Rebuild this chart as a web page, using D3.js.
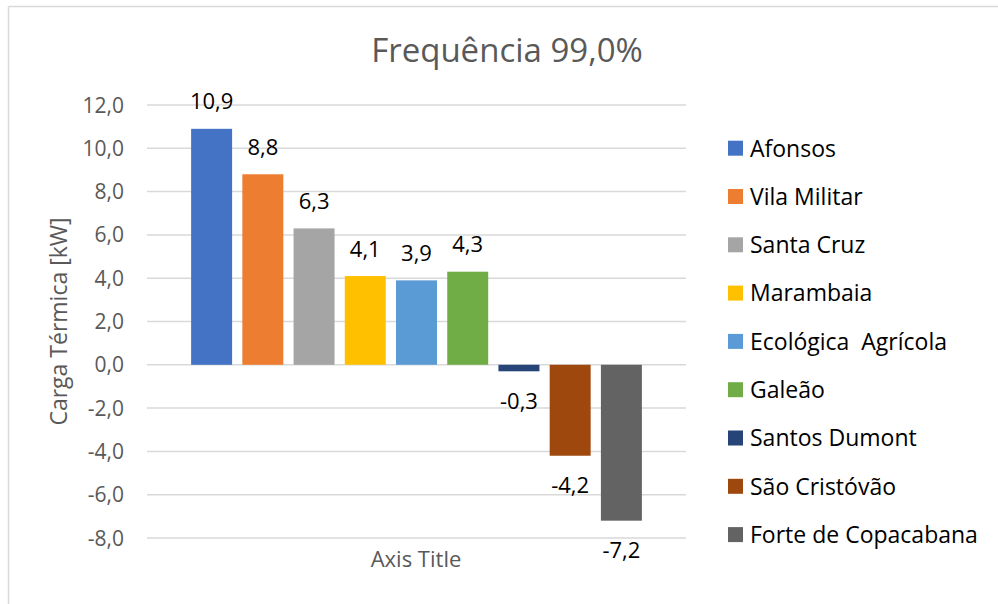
<!DOCTYPE html>
<html>
<head>
<meta charset="utf-8">
<script src="https://cdn.jsdelivr.net/npm/d3@7"></script>
<style>
  body { margin: 0; background: #fff; }
  svg text { font-family: "Open Sans", "Liberation Sans", sans-serif; }
</style>
</head>
<body>
<svg id="chart" width="998" height="604"></svg>
<script>
// data
var seriesNames = ["Afonsos", "Vila Militar", "Santa Cruz", "Marambaia", "Ecológica  Agrícola",
                   "Galeão", "Santos Dumont", "São Cristóvão", "Forte de Copacabana"];
var seriesValues = [10.9, 8.8, 6.3, 4.1, 3.9, 4.3, -0.3, -4.2, -7.2];
var seriesColors = ["#4472C4", "#ED7D31", "#A5A5A5", "#FFC000", "#5B9BD5",
                    "#70AD47", "#264478", "#9E480E", "#636363"];
var categories = ["Axis Title"];
var yTicks = [-8, -6, -4, -2, 0, 2, 4, 6, 8, 10, 12];

var svg = d3.select("#chart");
// excel style: comma decimal, plain hyphen for minus
var fmt = function (d) { return d3.format(".1f")(d).replace(".", ",").replace("\u2212", "-"); };

// chart frame (top + left only, like the source)
svg.append("line").attr("x1", 8.5).attr("x2", 998).attr("y1", 6.5).attr("y2", 6.5)
  .attr("stroke", "#d9d9d9").attr("stroke-width", 1.5);
svg.append("line").attr("x1", 8.5).attr("x2", 8.5).attr("y1", 6.5).attr("y2", 604)
  .attr("stroke", "#d9d9d9").attr("stroke-width", 1.5);

var plot = { left: 147, right: 686, top: 105, bottom: 538 };

var y = d3.scaleLinear().domain([-8, 12]).range([plot.bottom, plot.top]);
var x0 = d3.scaleBand().domain(categories).range([plot.left, plot.right])
  .paddingInner(0.078).paddingOuter(0.078);
var x1 = d3.scaleBand().domain(seriesNames).range([0, x0.bandwidth()])
  .paddingInner(0.2).paddingOuter(0.1);

// gridlines
svg.append("g").selectAll("line").data(yTicks).join("line")
  .attr("x1", plot.left).attr("x2", plot.right)
  .attr("y1", function (d) { return y(d); }).attr("y2", function (d) { return y(d); })
  .attr("stroke", "#d9d9d9").attr("stroke-width", 1.5);

// y tick labels
svg.append("g").selectAll("text").data(yTicks).join("text")
  .attr("x", 124).attr("y", function (d) { return y(d) + 7.5; })
  .attr("text-anchor", "end").attr("font-size", 21).attr("fill", "#595959")
  .text(fmt);

// bars
var group = svg.append("g").attr("transform", "translate(" + x0(categories[0]) + ",0)");
group.selectAll("rect").data(seriesValues).join("rect")
  .attr("x", function (d, i) { return x1(seriesNames[i]); })
  .attr("width", x1.bandwidth())
  .attr("y", function (d) { return y(Math.max(0, d)); })
  .attr("height", function (d) { return Math.abs(y(d) - y(0)); })
  .attr("fill", function (d, i) { return seriesColors[i]; });

// data labels
group.selectAll("text").data(seriesValues).join("text")
  .attr("x", function (d, i) { return x1(seriesNames[i]) + x1.bandwidth() / 2; })
  .attr("y", function (d) { return d >= 0 ? y(d) - 19.5 : y(d) + 37.5; })
  .attr("text-anchor", "middle").attr("font-size", 22).attr("fill", "#000")
  .text(fmt);

// title
svg.append("text").attr("x", 507).attr("y", 62).attr("text-anchor", "middle")
  .attr("font-size", 33).attr("fill", "#595959").text("Frequência 99,0%");

// axis titles
svg.append("text").attr("x", 416).attr("y", 567).attr("text-anchor", "middle")
  .attr("font-size", 22).attr("fill", "#595959").text(categories[0]);
svg.append("text").attr("transform", "translate(67," + ((plot.top + plot.bottom) / 2) + ") rotate(-90)")
  .attr("text-anchor", "middle").attr("font-size", 23).attr("fill", "#595959")
  .text("Carga Térmica [kW]");

// legend
var legend = svg.append("g").selectAll("g").data(seriesNames).join("g")
  .attr("transform", function (d, i) { return "translate(728," + (140.7 + i * 48.3) + ")"; });
legend.append("rect").attr("width", 15).attr("height", 15)
  .attr("fill", function (d, i) { return seriesColors[i]; });
legend.append("text").attr("x", 22).attr("y", 15.8)
  .attr("font-size", 23).attr("fill", "#000").style("white-space", "pre")
  .text(function (d) { return d; });
</script>
</body>
</html>
